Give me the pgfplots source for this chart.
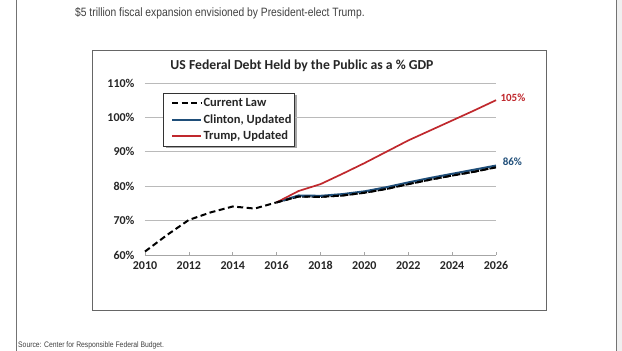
\documentclass[border=0pt]{standalone}
\usepackage{fontspec}
\setmainfont{Carlito}
\newfontfamily\narrowfont[FakeStretch=0.85]{Liberation Sans}
\usepackage{pgfplots}
\pgfplotsset{compat=1.18}
\definecolor{tred}{HTML}{C0282D}
\definecolor{cblue}{HTML}{1F4E79}
\begin{document}
\begin{tikzpicture}
\path[use as bounding box] (0,0) rectangle (622pt,351pt);
\fill[black!6] (616pt,0) rectangle (622pt,351pt);
\draw[black!55, line width=0.8pt] (16pt,0) -- (16pt,351pt);
\draw[black!55, line width=0.8pt] (616pt,0) -- (616pt,351pt);
\node[anchor=west, inner sep=0, text=black!75, font=\narrowfont\fontsize{12.1}{14}\selectfont] at (75pt,338pt) {\$5 trillion fiscal expansion envisioned by President-elect Trump.};
\draw[black!60, line width=0.8pt, fill=white] (92pt,41pt) rectangle (546pt,301pt);
\node[font=\bfseries\fontsize{13.7}{16}\selectfont, text=black!85] at (302pt,285pt) {US Federal Debt Held by the Public as a \% GDP};
\fill[black!35] (165.5pt,202.5pt) rectangle (296.5pt,255.5pt);
\begin{axis}[
  at={(145pt,96pt)}, anchor=south west,
  scale only axis, width=351pt, height=172pt,
  xmin=2010, xmax=2026, ymin=60, ymax=110,
  xtick={2010,2012,...,2026}, ytick={60,70,...,110},
  yticklabel={\pgfmathprintnumber{\tick}\%},
  /pgf/number format/1000 sep={},
  /pgf/number format/assume math mode=true,
  ticklabel style={font=\bfseries\fontsize{12}{14}\selectfont, text=black!85},
  xticklabel style={yshift=-3pt},
  yticklabel style={xshift=-7pt},
  ymajorgrids, grid style={black!27, line width=0.7pt},
  axis x line*=bottom, axis y line*=left,
  x axis line style={black!35, line width=0.8pt, -},
  y axis line style={draw=none},
  tick align=inside, major tick length=3pt,
  xtick style={black!35, line width=0.6pt},
  ytick style={draw=none},
  clip=false,
  legend style={at={(0.051,0.942)}, anchor=north west, draw=black!80, fill=white,
    font=\bfseries\fontsize{12.5}{15}\selectfont, text=black!85,
    inner xsep=1pt, inner ysep=3pt, row sep=2.5pt, cells={anchor=west},
    nodes={inner xsep=1.5pt}},
  legend image code/.code={\path (0pt,0pt); \draw[#1] (7pt,0pt) -- (36pt,0pt);},
]
\addplot[black, line width=2pt, dash pattern=on 6pt off 3.5pt] coordinates {
(2010,61.0) (2011,65.8) (2012,70.2) (2013,72.4) (2014,74.1) (2015,73.5) (2016,75.3) (2017,77.0) (2018,76.9) (2019,77.3) (2020,78.1) (2021,79.2) (2022,80.6) (2023,81.9) (2024,83.1) (2025,84.2) (2026,85.5)};
\addlegendentry{Current Law}
\addplot[draw=cblue, line width=2pt] coordinates {
(2016,75.3) (2017,77.3) (2018,77.2) (2019,77.7) (2020,78.5) (2021,79.7) (2022,81.1) (2023,82.4) (2024,83.6) (2025,84.8) (2026,86.0)};
\addlegendentry{Clinton, Updated}
\addplot[draw=tred, line width=1.7pt] coordinates {
(2016,75.3) (2017,78.6) (2018,80.6) (2019,83.6) (2020,86.7) (2021,90.0) (2022,93.3) (2023,96.2) (2024,99.1) (2025,102.0) (2026,105.0)};
\addlegendentry{Trump, Updated}
\addplot[black, line width=2pt, dash pattern=on 6pt off 3.5pt, forget plot] coordinates {
(2016,75.3) (2017,77.0) (2018,76.9) (2019,77.3) (2020,78.1) (2021,79.2) (2022,80.6) (2023,81.9) (2024,83.1) (2025,84.2) (2026,85.5)};
\node[anchor=west, inner sep=0, text=tred, font=\bfseries\fontsize{11}{13}\selectfont] at (axis cs:2026.2,105.6) {105\%};
\node[anchor=west, inner sep=0, text=cblue, font=\bfseries\fontsize{11}{13}\selectfont] at (axis cs:2026.3,87.1) {86\%};
\end{axis}
\node[anchor=west, inner sep=0, text=black!75, font=\narrowfont\fontsize{8}{10}\selectfont] at (18pt,6pt) {Source: Center for Responsible Federal Budget.};
\end{tikzpicture}
\end{document}
